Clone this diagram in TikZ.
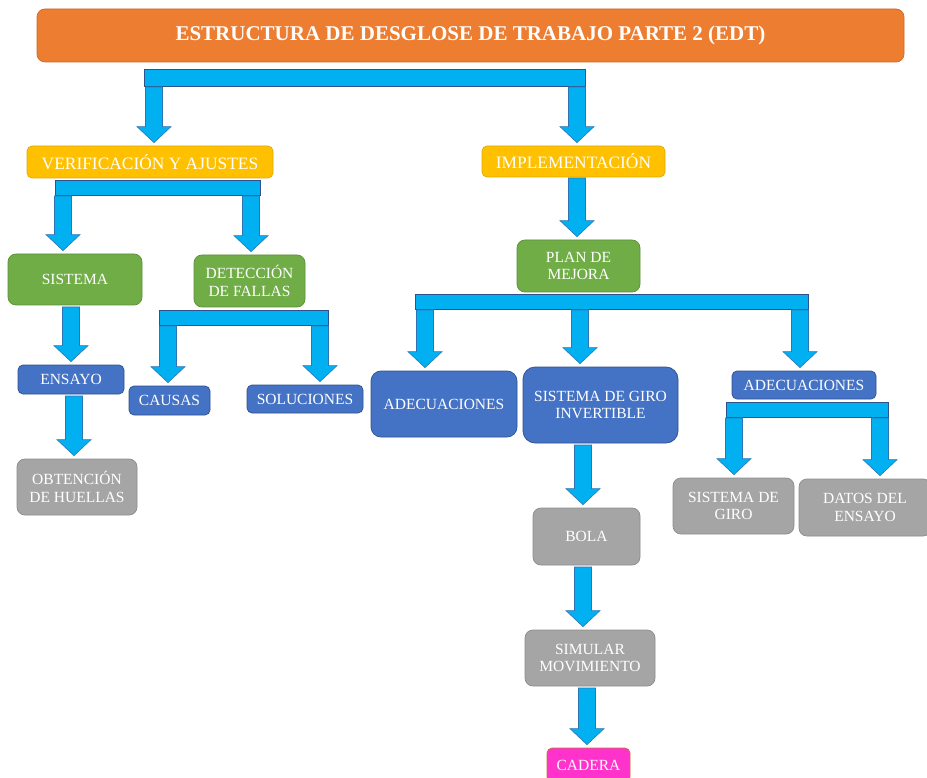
\documentclass[tikz,border=0pt]{standalone}
\usepackage{fontspec}
\setmainfont{Liberation Serif}
\usetikzlibrary{calc}

\definecolor{naranja}{HTML}{ED7D31}
\definecolor{naranjaborde}{HTML}{D0692A}
\definecolor{amarilla}{HTML}{FFC000}
\definecolor{amarillaborde}{HTML}{E3AA00}
\definecolor{verdec}{HTML}{70AD47}
\definecolor{verdeborde}{HTML}{5B8F39}
\definecolor{azulc}{HTML}{4472C4}
\definecolor{azulborde}{HTML}{2F528F}
\definecolor{grisc}{HTML}{A5A5A5}
\definecolor{grisborde}{HTML}{8C8C8C}
\definecolor{rosac}{HTML}{FF33CC}
\definecolor{rosaborde}{HTML}{C0753A}
\definecolor{cian}{HTML}{00B0F0}
\definecolor{flechaborde}{HTML}{2E75B6}
\definecolor{barraborde}{HTML}{2F528F}

\newcommand{\flecha}[2]{%
  \draw[flecha] let \p1=(#1), \p2=($(#1 |- #2.north)+(0,-3)$) in
    (\x1-8.5pt,\y1) -- (\x1+8.5pt,\y1) -- (\x1+8.5pt,\y2+16pt) -- (\x1+17pt,\y2+16pt)
    -- (\x1,\y2) -- (\x1-17pt,\y2+16pt) -- (\x1-8.5pt,\y2+16pt) -- cycle;}

\begin{document}
\begin{tikzpicture}[x=1pt,y=-1pt]
            \tikzset{
                caja/.style={draw, rounded corners=5pt, text=white, align=center, line width=0.7pt, inner sep=1pt, font=\fontsize{15.5}{17.5}\selectfont},
                naranjo/.style={caja, fill=naranja, draw=naranjaborde, rounded corners=8pt, font=\fontsize{21}{24}\selectfont\bfseries},
                amarillo/.style={caja, fill=amarilla, draw=amarillaborde, font=\fontsize{17.4}{20}\selectfont},
                verde/.style={caja, fill=verdec, draw=verdeborde, rounded corners=8pt},
                azul/.style={caja, fill=azulc, draw=azulborde},
                gris/.style={caja, fill=grisc, draw=grisborde, rounded corners=8pt},
                rosa/.style={caja, fill=rosac, draw=rosaborde},
                barra/.style={draw=barraborde, fill=cian, line width=0.7pt, inner sep=0pt, minimum height=15},
                flecha/.style={draw=flechaborde, fill=cian, line width=0.6pt}
            }

            \clip (0,0) rectangle (927,778);
            \fill[white] (0,0) rectangle (927,778);

            \node[naranjo, minimum width=867, minimum height=53] (titulo) at (470.5,35.5) {ESTRUCTURA DE DESGLOSE DE TRABAJO PARTE 2 (EDT)};
            \node[barra, minimum width=441, minimum height=17] (barra0) at (364.5,77.5) {};

            \node[amarillo, minimum width=246, minimum height=32] (verif) at (150,162) {VERIFICACIÓN Y AJUSTES};
            \node[amarillo, minimum width=183, minimum height=31] (impl) at (573.5,161.5) {IMPLEMENTACIÓN};
            \node[barra, minimum width=205] (barra1) at (157.5,187.5) {};

            \node[verde, minimum width=134, minimum height=51] (sistema) at (75,279.5) {SISTEMA};
            \node[verde, minimum width=111, minimum height=52] (deteccion) at (249.5,281) {DETECCIÓN\\DE FALLAS};
            \node[verde, minimum width=123, minimum height=52] (plan) at (578.5,266) {PLAN DE\\MEJORA};
            \node[barra, minimum width=169] (barra2) at (243.5,317.5) {};
            \node[barra, minimum width=393] (barra3) at (611.5,301.5) {};

            \node[azul, minimum width=106, minimum height=29] (ensayo) at (71,379.5) {ENSAYO};
            \node[azul, minimum width=81, minimum height=29] (causas) at (169.5,400.5) {CAUSAS};
            \node[azul, minimum width=116, minimum height=28] (soluciones) at (305,399) {SOLUCIONES};
            \node[gris, minimum width=120, minimum height=56] (obtencion) at (77,487) {OBTENCIÓN\\DE HUELLAS};

            \node[azul, minimum width=146, minimum height=66, rounded corners=10pt] (adec1) at (444,404) {ADECUACIONES};
            \node[azul, minimum width=155, minimum height=76, rounded corners=12pt] (giro) at (600.5,405) {SISTEMA DE GIRO\\INVERTIBLE};
            \node[azul, minimum width=144, minimum height=28] (adec2) at (804,385) {ADECUACIONES};
            \node[barra, minimum width=162] (barra4) at (807,409.5) {};

            \node[gris, minimum width=121, minimum height=56] (sgiro) at (733.5,506) {SISTEMA DE\\GIRO};
            \node[gris, minimum width=132, minimum height=57] (datos) at (865,507.5) {DATOS DEL\\ENSAYO};
            \node[gris, minimum width=107, minimum height=57] (bola) at (586.5,536.5) {BOLA};
            \node[gris, minimum width=130, minimum height=56] (simular) at (590,658) {SIMULAR\\MOVIMIENTO};
            \node[rosa, minimum width=83, minimum height=34] (cadera) at (588.5,765) {CADERA};

            \coordinate (s1) at (154,87);
            \coordinate (s2) at (577,87);
            \coordinate (s3) at (577,178);
            \coordinate (s4) at (63,196);
            \coordinate (s5) at (251,196);
            \coordinate (s6) at (71,307);
            \coordinate (s7) at (74,396);
            \coordinate (s8) at (168,326);
            \coordinate (s9) at (320,326);
            \coordinate (s10) at (425,310);
            \coordinate (s11) at (580,310);
            \coordinate (s12) at (800,310);
            \coordinate (s13) at (734,418);
            \coordinate (s14) at (880,418);
            \coordinate (s15) at (583,445);
            \coordinate (s16) at (583,567);
            \coordinate (s17) at (587,688);

            \flecha{s1}{verif}
            \flecha{s2}{impl}
            \flecha{s3}{plan}
            \flecha{s4}{sistema}
            \flecha{s5}{deteccion}
            \flecha{s6}{ensayo}
            \flecha{s7}{obtencion}
            \flecha{s8}{causas}
            \flecha{s9}{soluciones}
            \flecha{s10}{adec1}
            \flecha{s11}{giro}
            \flecha{s12}{adec2}
            \flecha{s13}{sgiro}
            \flecha{s14}{datos}
            \flecha{s15}{bola}
            \flecha{s16}{simular}
            \flecha{s17}{cadera}
        \end{tikzpicture}
\end{document}
